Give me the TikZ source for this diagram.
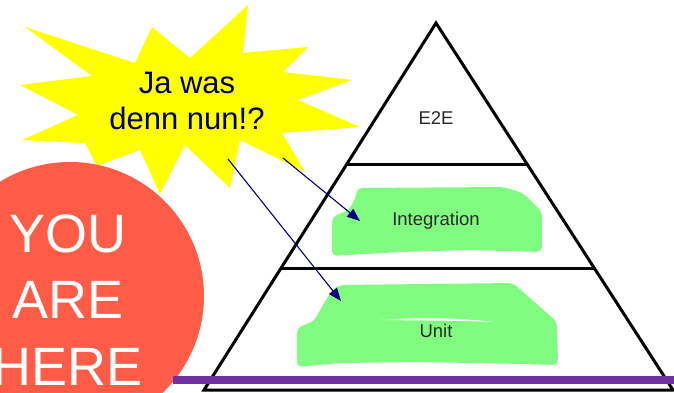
\documentclass[tikz,border=0pt]{standalone}
\usepackage{fontspec}
\setmainfont{Liberation Sans}
\usetikzlibrary{arrows.meta}
\definecolor{burst}{HTML}{FFFF00}
\definecolor{navytext}{HTML}{000066}
\definecolor{navyarrow}{HTML}{000080}
\definecolor{hereorange}{HTML}{FF5C48}
\definecolor{blobgreen}{HTML}{80FC80}
\definecolor{purpleline}{HTML}{7030A0}
\definecolor{pyrtext}{HTML}{2A2A2A}
\tikzset{
  pyrline/.style={line width=3pt, black, line join=miter},
  blob/.style={fill=blobgreen, rounded corners=5pt},
  pyrlabel/.style={anchor=base, inner sep=0pt, text=pyrtext, font=\fontsize{18.5}{22}\selectfont},
  burstlabel/.style={anchor=base, inner sep=0pt, text=navytext, font=\fontsize{31}{37}\selectfont},
  herelabel/.style={anchor=base, inner sep=0pt, text=white, font=\fontsize{54}{65}\selectfont},
  pointer/.style={navyarrow, line width=1.1pt, -{Triangle[length=13pt,width=10pt]}}
}
\begin{document}
\begin{tikzpicture}[x=1pt,y=-1pt]
\useasboundingbox (0,0) rectangle (674,392);
\clip (0,0) rectangle (674,392);
% starburst
\fill[burst] (25,27) -- (135,63) -- (152,27) -- (190,58) -- (248,5) -- (243,53)
  -- (308,47) -- (283,72) -- (352,80) -- (298,100) -- (360,127) -- (282,133)
  -- (305,172) -- (240,140) -- (230,188) -- (185,145) -- (160,194) -- (140,150)
  -- (97,166) -- (85,143) -- (22,140) -- (78,115) -- (20,85) -- (92,76) -- cycle;
\node[burstlabel] (ja) at (187,93) {Ja was};
\node[burstlabel] (denn) at (187,129) {denn nun!?};
% circle
\fill[hereorange] (70,296) circle[radius=134];
\node[herelabel] (you) at (68,252) {YOU};
\node[herelabel] (are) at (68,318) {ARE};
\node[herelabel] (here) at (68,385) {HERE};
% green blobs
\fill[blob] (357,188) -- (503,187) -- (523,193) -- (542,212) -- (542,252)
  -- (470,250) -- (400,252) -- (332,256) -- (332,217) -- (349,210) -- (356,197) -- cycle;
\fill[blob] (340,285) -- (513,283) -- (557,322) -- (558,365) -- (523,364)
  -- (420,362) -- (340,363) -- (297,367) -- (297,328) -- (314,321) -- (324,303) -- (333,289) -- cycle;
\fill[white] (380,320) .. controls (420,317) and (460,318) .. (494,322)
  .. controls (460,320.5) and (420,320.5) .. (380,320) -- cycle;
% pyramid
\coordinate (apex) at (436,23);
\coordinate (bl) at (204,390);
\coordinate (br) at (673,390);
\coordinate (l1) at (347,164);
\coordinate (r1) at (527,164);
\coordinate (l2) at (281,268);
\coordinate (r2) at (594,268);
\draw[pyrline] (apex) -- (br) -- (bl) -- cycle;
\draw[pyrline] (l1) -- (r1);
\draw[pyrline] (l2) -- (r2);
\node[pyrlabel] (e2e) at (436,124) {E2E};
\node[pyrlabel] (integ) at (436,225) {Integration};
\node[pyrlabel] (unit) at (436,337) {Unit};
% purple line
\coordinate (pl) at (173,380);
\coordinate (pr) at (680,380);
\draw[purpleline, line width=8pt] (pl) -- (pr);
% arrows
\coordinate (a1s) at (283,158);
\coordinate (a1e) at (360,221);
\coordinate (a2s) at (228,159);
\coordinate (a2e) at (341,301);
\draw[pointer] (a1s) -- (a1e);
\draw[pointer] (a2s) -- (a2e);
\end{tikzpicture}
\end{document}
